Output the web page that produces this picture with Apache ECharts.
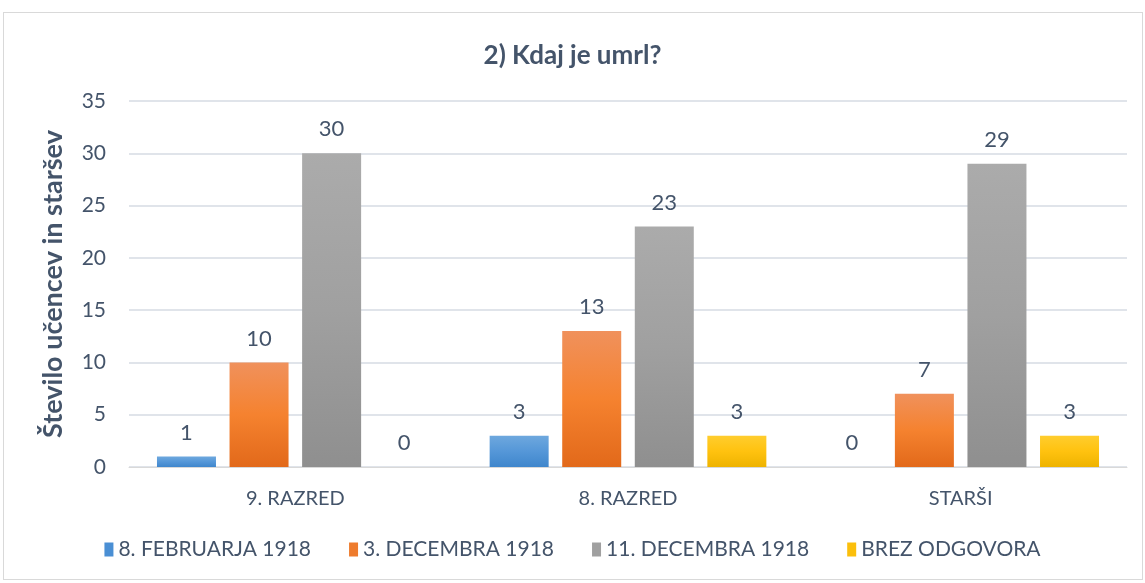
<!DOCTYPE html>
<html>
<head>
<meta charset="utf-8">
<script src="https://cdn.jsdelivr.net/npm/echarts@6/dist/echarts.min.js"></script>
<style>
  html, body { margin: 0; padding: 0; background: #fff; }
  #frame { position: absolute; left: 3px; top: 12px; width: 1140px; height: 568px; border: 1px solid #d9d9d9; box-sizing: border-box; }
  #chart { position: absolute; left: 0; top: 0; width: 1145px; height: 583px; }
</style>
</head>
<body>
<div id="frame"></div>
<div id="chart"></div>
<script>
// razredi / skupine
const categories = ['9. RAZRED', '8. RAZRED', 'STARŠI'];
const seriesNames = ['8. FEBRUARJA 1918', '3. DECEMBRA 1918', '11. DECEMBRA 1918', 'BREZ ODGOVORA'];
const febValues = [1, 3, 0];
const dec3Values = [10, 13, 7];
const dec11Values = [30, 23, 29];
const noAnswerValues = [0, 3, 3];
const yTicks = [0, 5, 10, 15, 20, 25, 30, 35];

const font = 'Lato, "Open Sans", sans-serif';
const textColor = '#44546a';

function grad(top, mid, bottom) {
    return new echarts.graphic.LinearGradient(0, 0, 0, 1, [
        { offset: 0, color: top },
        { offset: 0.5, color: mid },
        { offset: 1, color: bottom }
    ]);
}

const colors = [
    grad('#6ea8de', '#5597d8', '#3f86cc'),
    grad('#f0915c', '#f5822f', '#e2691a'),
    grad('#ababab', '#a0a0a0', '#8f8f8f'),
    grad('#ffcd2e', '#ffc20f', '#eeb300')
];
const legendColors = ['#4a8fd4', '#ee7b2d', '#a0a0a0', '#fbbf0c'];

const allValues = [febValues, dec3Values, dec11Values, noAnswerValues];

const chart = echarts.init(document.getElementById('chart'));
chart.setOption({
    animation: false,
    title: {
        text: '2) Kdaj je umrl?',
        left: 'center',
        top: 38,
        textStyle: { fontFamily: font, fontSize: 26, fontWeight: 'bold', color: textColor }
    },
    legend: {
        bottom: 18,
        left: 'center',
        itemWidth: 9,
        itemHeight: 14,
        itemGap: 38,
        icon: 'rect',
        textStyle: { fontFamily: font, fontSize: 21, color: textColor },
        data: seriesNames.map((n, i) => ({ name: n, itemStyle: { color: legendColors[i] } }))
    },
    grid: { left: 129, right: 18, top: 101, bottom: 116 },
    xAxis: {
        type: 'category',
        data: categories,
        axisTick: { show: false },
        axisLine: { lineStyle: { color: '#d9d9d9', width: 1 } },
        axisLabel: { fontFamily: font, fontSize: 20, color: textColor, margin: 22 }
    },
    yAxis: {
        type: 'value',
        min: yTicks[0],
        max: yTicks[yTicks.length - 1],
        interval: 5,
        name: 'Število učencev in staršev',
        nameLocation: 'middle',
        nameGap: 62,
        nameTextStyle: { fontFamily: font, fontSize: 27, fontWeight: 'bold', color: textColor },
        axisLabel: { fontFamily: font, fontSize: 21, color: textColor, margin: 23 },
        splitLine: { lineStyle: { color: '#e0e4ea', width: 2 } }
    },
    series: seriesNames.map((name, i) => ({
        name: name,
        type: 'bar',
        data: allValues[i],
        barWidth: 59,
        barGap: '23%',
        itemStyle: { color: colors[i] },
        label: {
            show: true,
            position: 'top',
            distance: 13,
            fontFamily: font,
            fontSize: 22,
            color: textColor
        }
    }))
});
</script>
</body>
</html>
